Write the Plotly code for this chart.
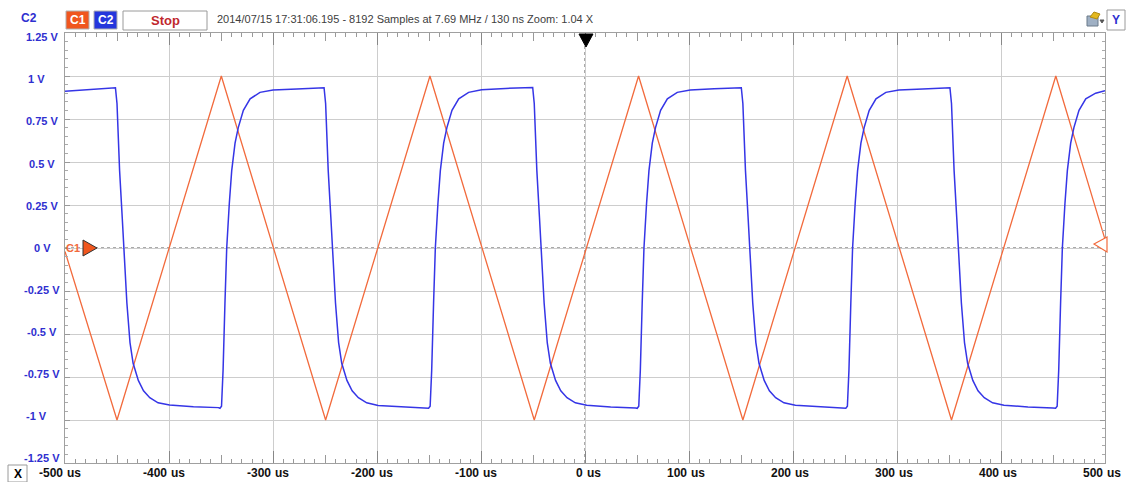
import plotly.graph_objects as go

# ---------------- data ----------------
# C1 (orange) triangle wave: vertex times (us) and voltages (V)
orange_t = [-500, -450, -349.7, -249.4, -149.1, -48.8, 51.5, 151.8, 252.1, 352.4, 452.7, 500]
orange_v = [-0.02, -1.0, 1.0, -1.0, 1.0, -1.0, 1.0, -1.0, 1.0, -1.0, 1.0, 0.05]

# C2 (blue) square-ish wave
blue_t = [
    -500, -480, -460,
    -451.5, -450, -447.5, -445, -443, -440.5, -437.5, -434.5, -429.5, -424.5, -418.5, -410.5, -399.5, -376.5, -352.5,
    -351, -349.5, -348, -346.2, -344.5, -342, -339.7, -336.5, -333.4, -328.5, -322, -312.5, -300, -277, -253,
    -250.9, -249.4, -246.9, -244.4, -242.4, -239.9, -236.9, -233.9, -228.9, -223.9, -217.9, -209.9, -198.9, -175.9, -151.9,
    -150.4, -148.9, -147.4, -145.6, -143.9, -141.4, -139.1, -135.9, -132.8, -127.9, -121.4, -111.9, -99.4, -76.4, -52.4,
    -50.3, -48.8, -46.3, -43.8, -41.8, -39.3, -36.3, -33.3, -28.3, -23.3, -17.3, -9.3, 1.7, 24.7, 48.7,
    50.2, 51.7, 53.2, 55.0, 56.7, 59.2, 61.5, 64.7, 67.8, 72.7, 79.2, 88.7, 101.2, 124.2, 148.2,
    150.3, 151.8, 154.3, 156.8, 158.8, 161.3, 164.3, 167.3, 172.3, 177.3, 183.3, 191.3, 202.3, 225.3, 249.3,
    250.8, 252.3, 253.8, 255.6, 257.3, 259.8, 262.1, 265.3, 268.4, 273.3, 279.8, 289.3, 301.8, 324.8, 348.8,
    350.9, 352.4, 354.9, 357.4, 359.4, 361.9, 364.9, 367.9, 372.9, 377.9, 383.9, 391.9, 402.9, 425.9, 449.9,
    452.5, 454.0, 455.5, 457.3, 459.0, 461.5, 463.8, 467.0, 470.1, 475.0, 481.5, 491.0, 500,
]
blue_v = [
    0.912, 0.92, 0.928,
    0.932, 0.84, 0.45, 0.18, -0.05, -0.32, -0.55, -0.67, -0.77, -0.83, -0.87, -0.90, -0.913, -0.923, -0.928,
    -0.932, -0.92, -0.71, -0.32, 0.0, 0.26, 0.45, 0.61, 0.70, 0.80, 0.867, 0.905, 0.919, 0.925, 0.931,
    0.932, 0.84, 0.45, 0.18, -0.05, -0.32, -0.55, -0.67, -0.77, -0.83, -0.87, -0.90, -0.915, -0.923, -0.93,
    -0.932, -0.92, -0.71, -0.32, 0.0, 0.26, 0.45, 0.61, 0.70, 0.80, 0.867, 0.905, 0.92, 0.928, 0.933,
    0.933, 0.84, 0.45, 0.18, -0.05, -0.32, -0.55, -0.67, -0.77, -0.83, -0.87, -0.90, -0.914, -0.924, -0.93,
    -0.932, -0.92, -0.71, -0.32, 0.0, 0.26, 0.45, 0.61, 0.70, 0.80, 0.867, 0.905, 0.919, 0.926, 0.932,
    0.932, 0.84, 0.45, 0.18, -0.05, -0.32, -0.55, -0.67, -0.77, -0.83, -0.87, -0.90, -0.914, -0.923, -0.929,
    -0.932, -0.92, -0.71, -0.32, 0.0, 0.26, 0.45, 0.61, 0.70, 0.80, 0.867, 0.905, 0.919, 0.925, 0.931,
    0.932, 0.84, 0.45, 0.18, -0.05, -0.32, -0.55, -0.67, -0.77, -0.83, -0.87, -0.90, -0.914, -0.924, -0.93,
    -0.932, -0.92, -0.71, -0.32, 0.0, 0.26, 0.45, 0.61, 0.70, 0.80, 0.867, 0.90, 0.915,
]

x_ticks = [-500, -400, -300, -200, -100, 0, 100, 200, 300, 400, 500]
x_tick_text = ["-500", "-400", "-300", "-200", "-100", "0", "100", "200", "300", "400", "500"]
y_ticks = [1.25, 1.0, 0.75, 0.5, 0.25, 0.0, -0.25, -0.5, -0.75, -1.0, -1.25]
y_tick_text = ["1.25 V", "1 V", "0.75 V", "0.5 V", "0.25 V", "0 V", "-0.25 V", "-0.5 V", "-0.75 V", "-1 V", "-1.25 V"]

header_text = "2014/07/15 17:31:06.195 - 8192 Samples at 7.69 MHz / 130 ns Zoom: 1.04 X"

# ---------------- geometry helpers ----------------
W, H = 1127, 482
L, R, T, B = 65, 22, 33, 19
PW, PH = W - L - R, H - T - B


def PX(px):
    return (px - L) / PW


def PY(py):
    return (H - B - py) / PH


ORANGE = "#f26a3c"
BLUE = "#3535e6"
LABEL_BLUE = "#2f2fd0"
FONT = "Liberation Sans, Arial, sans-serif"

fig = go.Figure()
fig.add_trace(go.Scatter(x=orange_t, y=orange_v, mode="lines",
                         line=dict(color=ORANGE, width=1.3), hoverinfo="skip"))
fig.add_trace(go.Scatter(x=blue_t, y=blue_v, mode="lines",
                         line=dict(color=BLUE, width=1.5), hoverinfo="skip"))
# invisible trace to carry the secondary tick axis
fig.add_trace(go.Scatter(x=[-500], y=[0], xaxis="x2", mode="markers",
                         marker=dict(size=0.1, opacity=0), hoverinfo="skip"))

fig.update_layout(
    width=W, height=H,
    margin=dict(l=L, r=R, t=T, b=B),
    plot_bgcolor="white", paper_bgcolor="white",
    showlegend=False,
    xaxis=dict(range=[-500, 500], tick0=0, dtick=100, showgrid=True,
               gridcolor="#cdcdcd", gridwidth=1, ticks="inside", ticklen=12,
               tickcolor="#888888", tickwidth=1, showticklabels=False,
               showline=True, linecolor="#a0a0a0", linewidth=1, mirror="ticks",
               zeroline=False,
               minor=dict(dtick=10, tick0=0, ticks="inside", ticklen=4,
                          tickcolor="#999999", showgrid=False)),
    xaxis2=dict(range=[-500, 500], overlaying="x", anchor="y", side="bottom",
                tickvals=[-450, -350, -250, -150, -50, 50, 150, 250, 350, 450],
                ticks="inside", ticklen=8, tickcolor="#999999",
                showticklabels=False, showgrid=False, zeroline=False,
                showline=False, mirror="ticks"),
    yaxis=dict(range=[-1.25, 1.25], tick0=0, dtick=0.25, showgrid=True,
               gridcolor="#cdcdcd", gridwidth=1, ticks="inside", ticklen=5,
               tickcolor="#999999", showticklabels=False, showline=True,
               linecolor="#a0a0a0", linewidth=1, mirror="ticks", zeroline=False,
               minor=dict(dtick=0.05, ticks="inside", ticklen=3,
                          tickcolor="#aaaaaa", showgrid=False)),
)

shapes = []
# dotted zero lines
shapes.append(dict(type="line", xref="x", yref="y", x0=-500, x1=500, y0=0, y1=0,
                   line=dict(color="#555555", width=1, dash="dot"), layer="below"))
shapes.append(dict(type="line", xref="x", yref="y", x0=0, x1=0, y0=-1.25, y1=1.25,
                   line=dict(color="#555555", width=1, dash="dot"), layer="below"))


def rect(x0, y0, x1, y1, fill, line="#999999", lw=1):
    shapes.append(dict(type="rect", xref="paper", yref="paper",
                       x0=PX(x0), x1=PX(x1), y0=PY(y1), y1=PY(y0),
                       fillcolor=fill, line=dict(color=line, width=lw), layer="above"))


def path(pts, fill, line, lw=1):
    d = "M " + " L ".join(f"{PX(a):.5f},{PY(b):.5f}" for a, b in pts) + " Z"
    shapes.append(dict(type="path", xref="paper", yref="paper", path=d,
                       fillcolor=fill, line=dict(color=line, width=lw), layer="above"))


# header boxes
rect(66, 11, 89, 29, "#f0561e", "#b0b0b0")
rect(94, 11, 117, 29, "#2536dc", "#b0b0b0")
rect(123, 11, 207, 30, "white", "#9a9a9a")
rect(1107, 10, 1125, 30, "white", "#9a9a9a")
rect(8, 465, 27, 482, "white", "#9a9a9a")
# top-right icon (approximation)
rect(1087, 16, 1098, 26, "#9fb0c4", "#6a7a8a")
path([(1090, 17), (1094, 12), (1100, 14), (1097, 19)], "#e3b81e", "#b08a10")
path([(1100, 20), (1104, 20), (1102, 23)], "#555555", "#555555")

# trigger marker (top, at 0 us)
path([(579, 34), (593, 34), (586, 47)], "black", "black")
# C1 ground marker (left)
path([(83, 240), (83, 256), (97, 248)], "#f0561e", "#333333")
# hollow marker at right
path([(1107, 237), (1094, 244), (1107, 252)], "white", ORANGE, 1.2)

fig.update_layout(shapes=shapes)

ann = []


def text(px, py, s, color, size, bold=False, xanchor="center"):
    ann.append(dict(xref="paper", yref="paper", x=PX(px), y=PY(py),
                    text=f"<b>{s}</b>" if bold else s,
                    showarrow=False, xanchor=xanchor, yanchor="middle",
                    borderpad=0, font=dict(family=FONT, size=size, color=color)))


text(29, 18, "C2", LABEL_BLUE, 12, True)
text(77.5, 20, "C1", "white", 12, True)
text(105.5, 20, "C2", "white", 12, True)
text(165, 20.5, "Stop", "#c0282d", 13, True)
text(216, 19, header_text, "#404040", 11, False, "left")
text(1116, 20, "Y", "#2f2fd0", 12, True)
text(17.5, 474, "X", "black", 12, True)
text(73, 248, "C1", ORANGE, 11, True)

# y labels (evenly spaced slightly inside the grid, as in the source)
for v, s in zip(y_ticks, y_tick_text):
    cy = 247.7 - v * 168.4
    cx = 36 if s in ("1 V", "-1 V") else 42
    text(cx, cy, s, LABEL_BLUE, 11, True)

# x labels: number ends at the tick, unit follows
for v, s in zip(x_ticks, x_tick_text):
    ann.append(dict(xref="x", yref="paper", x=v, y=PY(473), text=f"<b>{s}</b>",
                    showarrow=False, xanchor="right", yanchor="middle", xshift=-1,
                    borderpad=0, font=dict(family=FONT, size=12, color="#111111")))
    ann.append(dict(xref="x", yref="paper", x=v, y=PY(473), text="<b>us</b>",
                    showarrow=False, xanchor="left", yanchor="middle", xshift=1,
                    borderpad=0, font=dict(family=FONT, size=12, color="#111111")))

fig.update_layout(annotations=ann)

fig.write_html("out.html")
